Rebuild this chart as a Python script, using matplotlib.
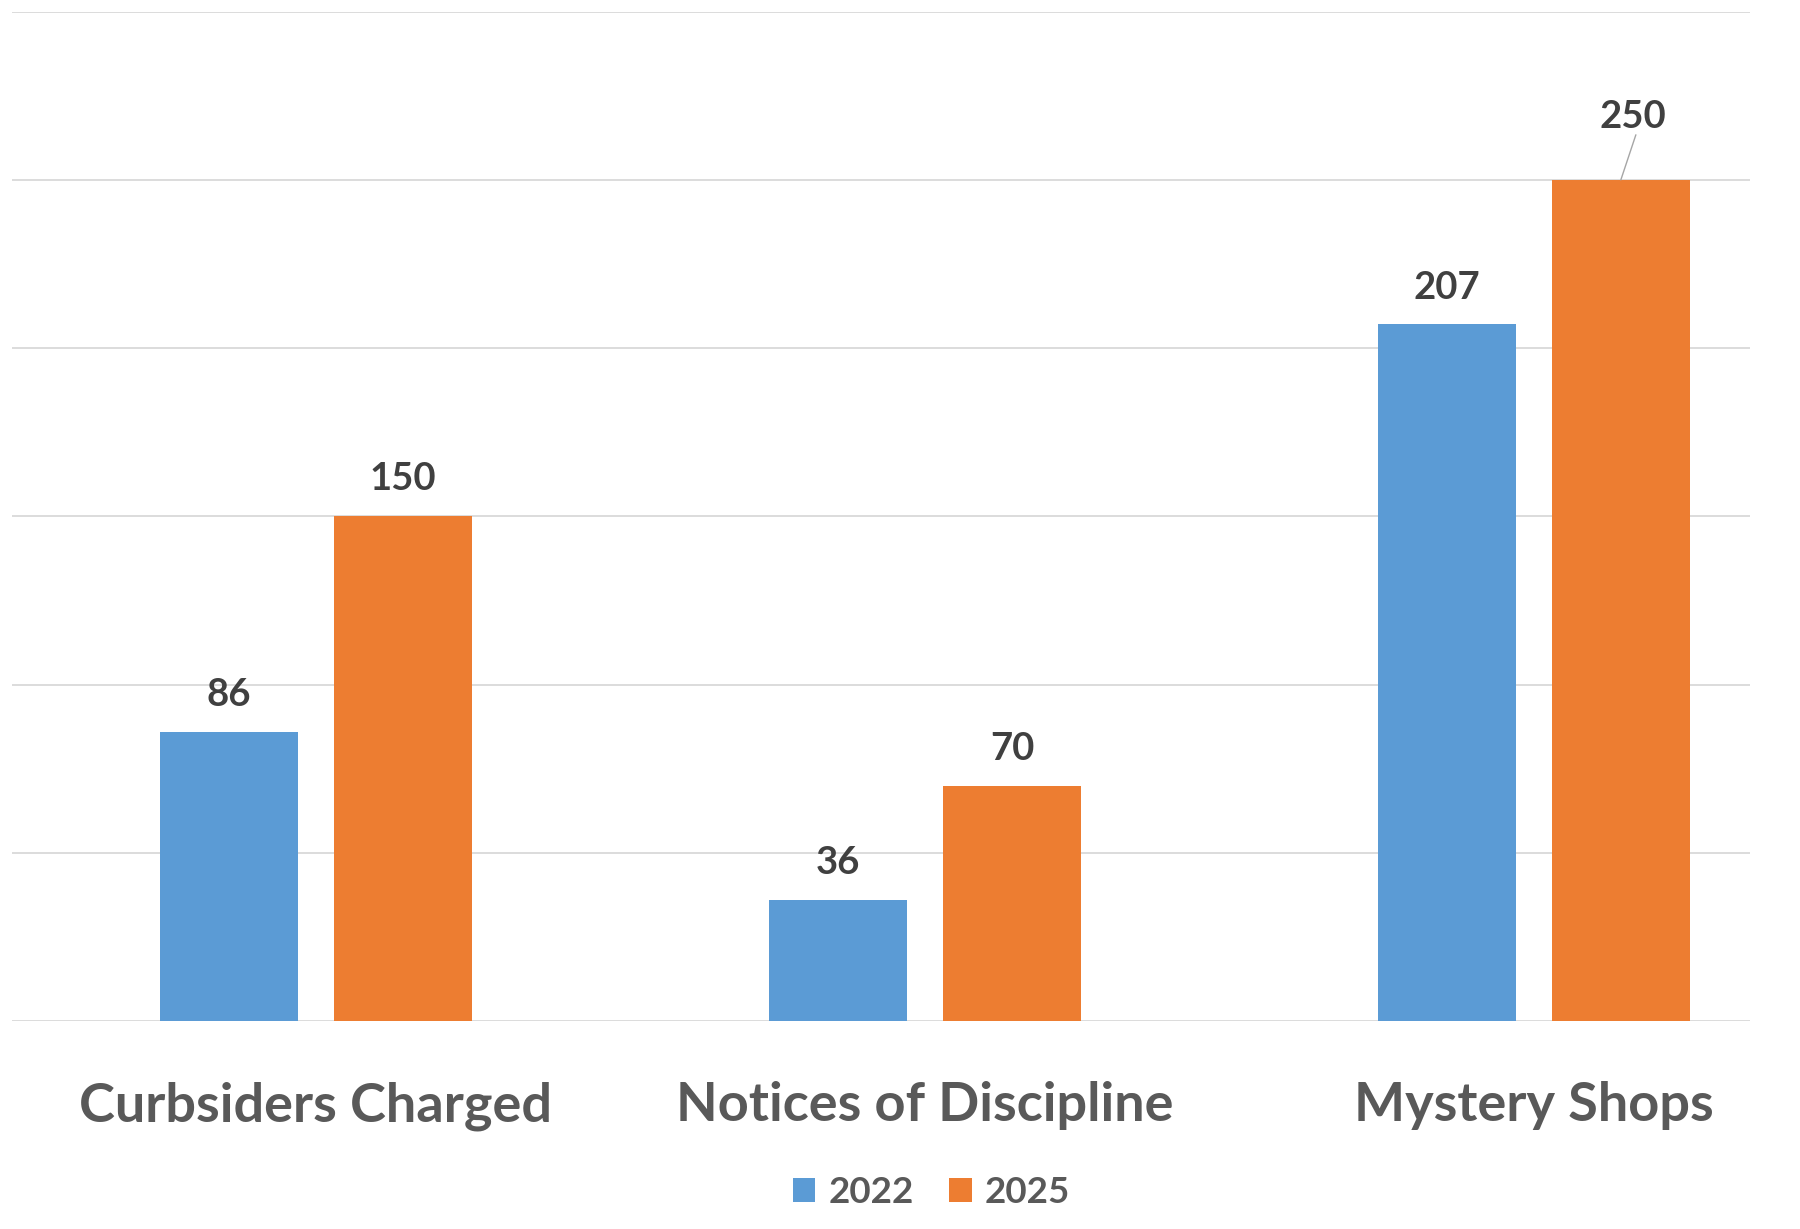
import matplotlib
matplotlib.use("Agg")
import matplotlib.pyplot as plt
import numpy as np

categories = ["Curbsiders Charged", "Notices of Discipline", "Mystery Shops"]
series_names = ["2022", "2025"]
values_2022 = [86, 36, 207]
values_2025 = [150, 70, 250]
y_ticks = [0, 50, 100, 150, 200, 250, 300]

blue = "#5B9BD5"
orange = "#ED7D31"
grid_c = "#D9D9D9"
font = "Lato"

plt.rcParams['font.family'] = [font, 'DejaVu Sans']

fig = plt.figure(figsize=(18, 12.29), dpi=100)
ax = fig.add_axes([0.0064, 0.1692, 0.9722 - 0.0064, 0.9906 - 0.1692])

x = np.arange(len(categories))
w = 0.226
off = 0.143
b1 = ax.bar(x - off, values_2022, w, color=blue, label=series_names[0], zorder=3)
b2 = ax.bar(x + off, values_2025, w, color=orange, label=series_names[1], zorder=3)

ax.set_xlim(-0.5, 2.355)
ax.set_ylim(0, 300)
ax.set_yticks(y_ticks)
ax.yaxis.grid(True, color=grid_c, linewidth=1.3)
ax.set_axisbelow(True)
ax.tick_params(axis='y', length=0, labelleft=False)
for s in ax.spines.values():
    s.set_visible(False)

ax.set_xticks(x)
ax.set_xticklabels(categories, fontsize=39, fontweight='bold', color="#595959")
ax.tick_params(axis='x', length=0, pad=72)
for t in ax.get_xticklabels():
    t.set_verticalalignment('baseline')

lab_kw = dict(fontsize=27.5, fontweight='bold', color="#404040", ha='center', va='baseline')
for i, v in enumerate(values_2022):
    ax.annotate(f"{v}", (x[i] - off, v), xytext=(0, 18.7), textcoords='offset points', **lab_kw)
for i, v in enumerate(values_2025):
    if i == 2:
        ax.annotate(f"{v}", (x[i] + off, v), xytext=(8.6, 37.4), textcoords='offset points', **lab_kw)
        ax.annotate("", (x[i] + off, v), xytext=(10.8, 32.4), textcoords='offset points',
                    arrowprops=dict(arrowstyle='-', color="#A6A6A6", lw=1.0, shrinkA=0, shrinkB=0))
    else:
        ax.annotate(f"{v}", (x[i] + off, v), xytext=(0, 18.7), textcoords='offset points', **lab_kw)

leg = fig.legend(handles=[b1, b2], labels=series_names, loc='center', bbox_to_anchor=(0.5175, 0.0295),
                 ncol=2, frameon=False, handlelength=0.61, handleheight=0.61,
                 handletextpad=0.36, columnspacing=0.97, borderpad=0, borderaxespad=0,
                 prop=dict(family=[font, 'DejaVu Sans'], weight='bold', size=26.5))
for t in leg.get_texts():
    t.set_color("#595959")

fig.savefig("out.png", dpi=100, facecolor='white')
